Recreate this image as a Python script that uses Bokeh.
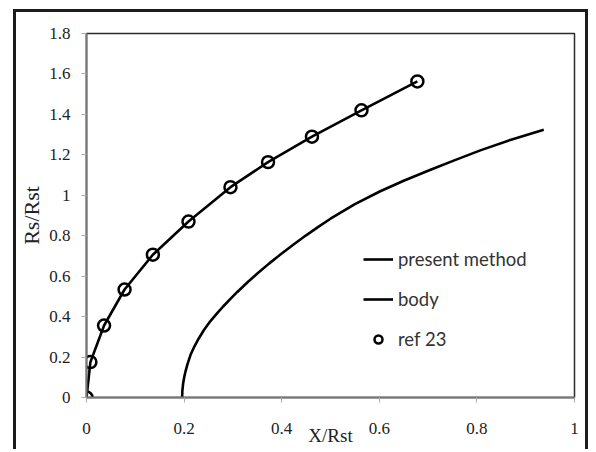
from bokeh.plotting import figure
from bokeh.models import FixedTicker, Legend, LegendItem, Range1d
from bokeh.embed import file_html
from bokeh.resources import INLINE

# ---- data ----
ref_x = [0.0, 0.008, 0.036, 0.078, 0.136, 0.209, 0.295, 0.372, 0.462, 0.5635, 0.678]
ref_y = [0.0, 0.175, 0.356, 0.534, 0.706, 0.870, 1.040, 1.164, 1.290, 1.420, 1.563]

present_x = [0.0, 0.008, 0.036, 0.078, 0.136, 0.209, 0.295, 0.372, 0.462, 0.5635, 0.678]
present_y = [0.0, 0.175, 0.356, 0.534, 0.706, 0.870, 1.040, 1.164, 1.290, 1.420, 1.563]

body_x = [0.196, 0.1965, 0.198, 0.2005, 0.203, 0.207, 0.213, 0.221, 0.23, 0.241,
          0.254, 0.267, 0.28, 0.295, 0.309, 0.33, 0.35, 0.374, 0.398, 0.425,
          0.45, 0.475, 0.5, 0.55, 0.602, 0.65, 0.705, 0.755, 0.807, 0.87, 0.937]
body_y = [0.0, 0.035, 0.069, 0.104, 0.13, 0.165, 0.21, 0.252, 0.292, 0.335,
          0.378, 0.415, 0.45, 0.488, 0.522, 0.57, 0.613, 0.662, 0.708, 0.758,
          0.802, 0.844, 0.884, 0.956, 1.02, 1.072, 1.126, 1.174, 1.222, 1.275, 1.324]

x_ticks = [0, 0.2, 0.4, 0.6, 0.8, 1.0]
x_tick_labels = ["0", "0.2", "0.4", "0.6", "0.8", "1"]
y_ticks = [0, 0.2, 0.4, 0.6, 0.8, 1.0, 1.2, 1.4, 1.6, 1.8]
y_tick_labels = ["0", "0.2", "0.4", "0.6", "0.8", "1", "1.2", "1.4", "1.6", "1.8"]

series_names = ["present method", "body", "ref 23"]
x_title = "X/Rst"
y_title = "Rs/Rst"

SERIF = "Liberation Serif"
BORDER = "3px solid #1c1c1c"

p = figure(width=575, height=440, output_backend="svg", toolbar_location=None,
           x_range=Range1d(0, 1), y_range=Range1d(0, 1.8),
           min_border_left=70, min_border_right=17, min_border_top=21,
           min_border_bottom=55)
# outer picture border (open at the bottom, as in the reference)
p.styles = {"margin-left": "13px", "margin-top": "9px",
            "border-left": BORDER, "border-top": BORDER, "border-right": BORDER}

p.xgrid.visible = False
p.ygrid.visible = False
p.outline_line_color = "#2a2a2a"
p.outline_line_width = 1.5
p.background_fill_color = "white"
p.border_fill_color = "white"

# axes
p.xaxis.ticker = FixedTicker(ticks=x_ticks)
p.xaxis.major_label_overrides = {t: l for t, l in zip(x_ticks, x_tick_labels)}
p.yaxis.ticker = FixedTicker(ticks=y_ticks)
p.yaxis.major_label_overrides = {t: l for t, l in zip(y_ticks, y_tick_labels)}
for ax in (p.xaxis, p.yaxis):
    ax.minor_tick_line_color = None
    ax.major_tick_in = 0
    ax.major_tick_out = 5
    ax.major_tick_line_color = "#aaaaaa"
    ax.axis_line_color = "#777777"
    ax.axis_line_width = 2
    ax.major_label_text_font = SERIF
    ax.major_label_text_font_size = "17px"
    ax.major_label_text_color = "#222222"
    ax.axis_label_text_font = SERIF
    ax.axis_label_text_font_style = "normal"
    ax.axis_label_text_color = "#222222"
p.xaxis.major_label_standoff = 20
p.xaxis.axis_label = x_title
p.xaxis.axis_label_text_font_size = "19px"
p.xaxis.axis_label_standoff = -12
p.yaxis.major_label_standoff = 11
p.yaxis.axis_label = y_title
p.yaxis.axis_label_text_font_size = "22px"
p.yaxis.axis_label_standoff = 2

r_present = p.line(present_x, present_y, line_color="black", line_width=2.6)
r_body = p.line(body_x, body_y, line_color="black", line_width=2.6)
r_ref = p.scatter(ref_x, ref_y, marker="circle", size=12, fill_color=None,
                  line_color="black", line_width=2.5)

legend = Legend(items=[LegendItem(label=series_names[0], renderers=[r_present]),
                       LegendItem(label=series_names[1], renderers=[r_body]),
                       LegendItem(label=series_names[2], renderers=[r_ref])],
                location=(277, 47))
legend.border_line_color = None
legend.background_fill_alpha = 0
legend.padding = 0
legend.margin = 0
legend.glyph_width = 30
legend.glyph_height = 20
legend.label_height = 20
legend.spacing = 18
legend.label_standoff = 5
legend.label_text_font = "Lato"
legend.label_text_font_size = "18.5px"
legend.label_text_color = "#333333"
p.add_layout(legend)

open("out.html", "w").write(file_html(p, INLINE))
